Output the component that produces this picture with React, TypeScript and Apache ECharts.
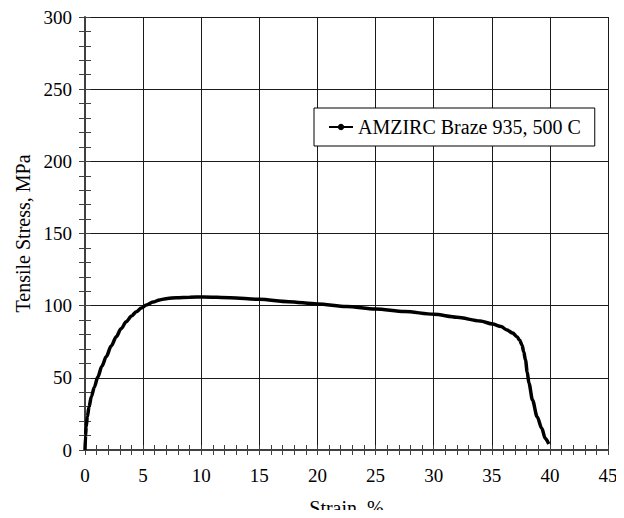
import React, { useEffect, useRef } from "react";
import * as echarts from "echarts";

const seriesName = "AMZIRC Braze 935, 500 C";
const strain = [0, 0.05, 0.1, 0.2, 0.35, 0.55, 0.8, 1.1, 1.45, 1.83, 2.25, 2.69, 3.1, 3.55, 4.0, 4.41, 4.85, 5.28, 5.85, 6.42, 7.1, 7.86, 9.0, 10.2, 12.5, 15, 17.5, 20, 22.5, 25, 27.5, 30, 32, 34, 35.07, 35.8, 36.3, 36.8, 37.17, 37.4, 37.6, 37.75, 37.9, 38.05, 38.2, 38.5, 38.9, 39.3, 39.6, 39.9];
const stress = [0, 10, 16, 23, 30, 37, 43.5, 50.5, 58, 64.7, 72, 78.5, 84, 88.9, 92.8, 95.8, 98.3, 100.5, 102.5, 104, 105, 105.5, 105.9, 106, 105.5, 104.4, 102.8, 101.2, 99.5, 97.7, 96, 94, 92, 89.4, 87.3, 85.5, 83.2, 81, 78.5, 76, 72.8, 68, 62.4, 54, 46.2, 34.7, 23.1, 15, 8.1, 4.2];
const xTitle = "Strain, %";
const yTitle = "Tensile Stress, MPa";

const FONT = "'Liberation Serif', 'Times New Roman', serif";

export default function App() {
  const ref = useRef<HTMLDivElement>(null);
  useEffect(() => {
    if (!ref.current) return;
    const chart = echarts.init(ref.current, undefined, { renderer: "svg" });
    const data = strain.map((s, i) => [s, stress[i]]);
    const tickStyle = { color: "#404040", width: 1 };
    const baseX = { type: "value", min: 0, max: 45, interval: 5, gridIndex: 0 };
    const baseY = { type: "value", min: 0, max: 300, interval: 50, gridIndex: 0 };
    chart.setOption({
      animation: false,
      backgroundColor: "#fff",
      textStyle: { fontFamily: FONT },
      grid: { left: 85, right: 16, top: 17, bottom: 68, containLabel: false, outerBoundsMode: "none" },
      legend: {
        show: true,
        data: [seriesName],
        left: 314,
        top: 108,
        orient: "vertical",
        backgroundColor: "#fff",
        borderColor: "#000",
        borderWidth: 1,
        padding: [9, 14, 9, 14],
        itemWidth: 24,
        itemHeight: 8,
        itemGap: 4,
        textStyle: { fontFamily: FONT, fontSize: 20, color: "#000" },
      },
      xAxis: [
        {
          ...baseX,
          position: "bottom",
          name: xTitle,
          nameLocation: "middle",
          nameGap: 48,
          nameMoveOverlap: false,
          nameTextStyle: { fontFamily: FONT, fontSize: 20, color: "#000" },
          axisLine: { show: true, onZero: false, lineStyle: { color: "#404040", width: 2 } },
          axisTick: { show: true, inside: false, length: 5, lineStyle: tickStyle },
          minorTick: { show: true, splitNumber: 5, length: 5, lineStyle: tickStyle },
          axisLabel: { fontFamily: FONT, fontSize: 19, color: "#000", margin: 16 },
          splitLine: { show: true, lineStyle: { color: "#1a1a1a", width: 1 } },
        },
        {
          ...baseX,
          position: "bottom",
          axisLine: { show: false, onZero: false },
          axisTick: { show: true, inside: true, length: 5, lineStyle: tickStyle },
          minorTick: { show: true, splitNumber: 5, length: 5, lineStyle: tickStyle },
          axisLabel: { show: false },
          splitLine: { show: false },
        },
      ],
      yAxis: [
        {
          ...baseY,
          position: "left",
          name: yTitle,
          nameLocation: "middle",
          nameGap: 52,
          nameMoveOverlap: false,
          nameTextStyle: { fontFamily: FONT, fontSize: 20, color: "#000" },
          axisLine: { show: true, onZero: false, lineStyle: { color: "#404040", width: 2 } },
          axisTick: { show: true, inside: false, length: 6, lineStyle: tickStyle },
          minorTick: { show: true, splitNumber: 5, length: 6, lineStyle: tickStyle },
          axisLabel: { fontFamily: FONT, fontSize: 19, color: "#000", margin: 13 },
          splitLine: { show: true, lineStyle: { color: "#1a1a1a", width: 1 } },
        },
        {
          ...baseY,
          position: "left",
          axisLine: { show: false, onZero: false },
          axisTick: { show: true, inside: true, length: 6, lineStyle: tickStyle },
          minorTick: { show: true, splitNumber: 5, length: 6, lineStyle: tickStyle },
          axisLabel: { show: false },
          splitLine: { show: false },
        },
      ],
      series: [
        {
          name: seriesName,
          type: "line",
          xAxisIndex: 0,
          yAxisIndex: 0,
          data,
          showSymbol: false,
          symbol: "circle",
          symbolSize: 3,
          smooth: 0.3,
          smoothMonotone: "x",
          lineStyle: { color: "#000", width: 3.5 },
          itemStyle: { color: "#000" },
          z: 5,
        },
      ],
    });
    return () => chart.dispose();
  }, []);
  return <div ref={ref} style={{ width: 624, height: 518, margin: -8 }} />;
}
